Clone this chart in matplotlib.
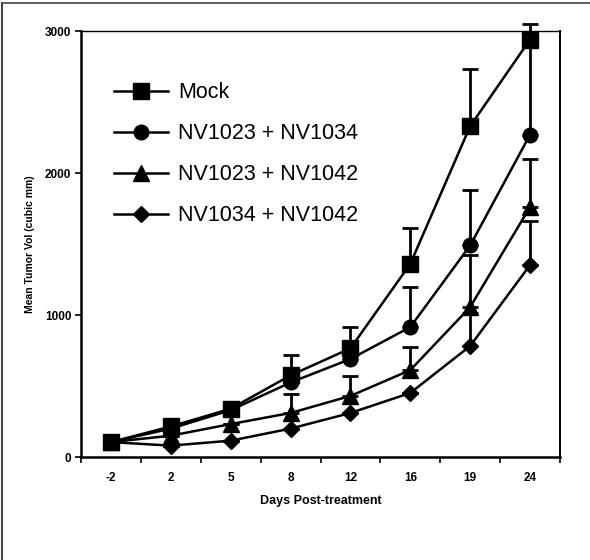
import matplotlib
matplotlib.use("Agg")
import matplotlib.pyplot as plt
from matplotlib.lines import Line2D
import numpy as np

days = ["-2", "2", "5", "8", "12", "16", "19", "24"]

mock = [105, 215, 340, 575, 765, 1360, 2330, 2940]
mock_err = [0, 20, 40, 145, 150, 250, 400, 110]

nv1023_1034 = [105, 200, 330, 525, 690, 915, 1490, 2270]
nv1023_1034_err = [0, 0, 0, 0, 40, 282, 390, 660]

nv1023_1042 = [105, 150, 232, 310, 430, 612, 1056, 1761]
nv1023_1042_err = [0, 0, 0, 135, 140, 165, 365, 340]

nv1034_1042 = [105, 80, 115, 200, 310, 451, 782, 1352]
nv1034_1042_err = [0, 0, 0, 0, 0, 0, 230, 310]

labels = ["Mock", "NV1023 + NV1034", "NV1023 + NV1042", "NV1034 + NV1042"]
series = [mock, nv1023_1034, nv1023_1042, nv1034_1042]
errors = [mock_err, nv1023_1034_err, nv1023_1042_err, nv1034_1042_err]
markers = ["s", "o", "^", "D"]
msizes = [11, 10.5, 11, 8.5]

plt.rcParams['font.family'] = ['Liberation Sans', 'DejaVu Sans']

fig = plt.figure(figsize=(5.9, 5.6), dpi=100)
ax = fig.add_axes([81/590, 1 - 457/560, (560 - 81)/590, (457 - 31)/560])

x = np.arange(len(days))
handles = []
for vals, err, m, ms, lab in zip(series, errors, markers, msizes, labels):
    err = np.array(err)
    ax.errorbar(x, vals, yerr=[np.zeros_like(err), err], fmt='none',
                ecolor='black', elinewidth=2.0, capsize=6, capthick=2.0,
                clip_on=False, zorder=2)
    ax.plot(x, vals, color='black', lw=1.8, marker=m, markersize=ms,
            markerfacecolor='black', markeredgecolor='black', clip_on=False, zorder=3)
    handles.append(Line2D([], [], color='black', lw=1.8, marker=m, markersize=ms,
                          markerfacecolor='black', markeredgecolor='black', label=lab))

ax.set_xlim(-0.5, len(days) - 0.5)
ax.set_ylim(0, 3000)
ax.set_yticks([0, 1000, 2000, 3000])
ax.set_yticklabels(["0", "1000", "2000", "3000"], fontsize=8.5, fontweight='bold')
ax.set_xticks(x)
ax.set_xticklabels(days, fontsize=8.5, fontweight='bold')
ax.set_xticks(np.arange(-0.5, len(days) + 0.5, 1), minor=True)
ax.tick_params(axis='x', which='major', length=0, pad=11)
ax.tick_params(axis='x', which='minor', length=4, width=1.2, direction='out')
ax.tick_params(axis='y', which='major', length=4, width=1.2, direction='out', pad=3)

ax.spines['left'].set_linewidth(1.8)
ax.spines['bottom'].set_linewidth(1.8)
ax.spines['top'].set_linewidth(1.0)
ax.spines['right'].set_linewidth(1.4)

ax.set_xlabel("Days Post-treatment", fontsize=9, fontweight='bold', labelpad=8)
ax.set_ylabel("Mean Tumor Vol (cubic mm)", fontsize=7.5, fontweight='bold', labelpad=7)

leg = ax.legend(handles=handles, loc='upper left', bbox_to_anchor=(0.05, 0.9),
                frameon=False, fontsize=15.5, handlelength=2.55, handletextpad=0.45,
                labelspacing=0.93, borderaxespad=0)

# figure frame (left and top edges)
fig.add_artist(Line2D([2/590, 2/590], [0, 1 - 3/560], transform=fig.transFigure,
                      color='#444444', lw=1.5))
fig.add_artist(Line2D([2/590, 1], [1 - 3/560, 1 - 3/560], transform=fig.transFigure,
                      color='#444444', lw=1.2))

fig.savefig("out.png", dpi=100, facecolor='white')
